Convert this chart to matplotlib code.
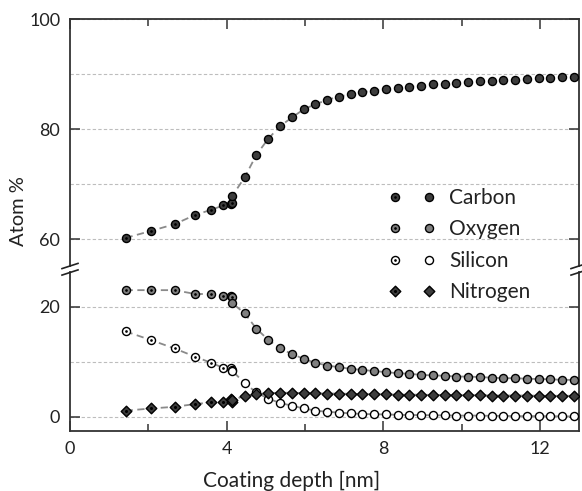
import matplotlib
matplotlib.use("Agg")
import matplotlib.pyplot as plt
from matplotlib.lines import Line2D
from matplotlib.path import Path
from matplotlib.legend_handler import HandlerTuple

plt.rcParams['font.family'] = ['Lato', 'DejaVu Sans']

# depth [nm]: first profile (dotted markers) and second profile (plain markers)
depth_a = [1.42, 2.08, 2.67, 3.20, 3.60, 3.91, 4.10, 4.15]
depth_b = [4.15, 4.46, 4.76, 5.06, 5.36, 5.67, 5.97, 6.27, 6.57, 6.87,
           7.17, 7.47, 7.77, 8.07, 8.37, 8.67, 8.97, 9.27, 9.57, 9.87,
           10.17, 10.47, 10.77, 11.07, 11.37, 11.67, 11.97, 12.27, 12.57, 12.87]

carbon_a = [60.2, 61.5, 62.7, 64.4, 65.3, 66.1, 66.3, 66.5]
carbon_b = [67.9, 71.2, 75.3, 78.2, 80.5, 82.1, 83.6, 84.5, 85.3, 85.9,
            86.3, 86.7, 87.0, 87.3, 87.5, 87.7, 87.9, 88.1, 88.2, 88.4,
            88.5, 88.7, 88.8, 88.9, 89.0, 89.1, 89.2, 89.3, 89.4, 89.45]

oxygen_a = [23.0, 23.0, 23.0, 22.3, 22.3, 22.0, 22.0, 21.8]
oxygen_b = [20.6, 18.8, 16.0, 14.0, 12.4, 11.4, 10.5, 9.8, 9.3, 9.0,
            8.7, 8.5, 8.3, 8.1, 7.9, 7.8, 7.6, 7.5, 7.45, 7.3,
            7.3, 7.2, 7.1, 7.0, 7.0, 6.9, 6.85, 6.8, 6.7, 6.7]

silicon_a = [15.5, 13.9, 12.4, 10.9, 9.8, 8.9, 8.9, 8.5]
silicon_b = [8.3, 6.1, 4.4, 3.3, 2.5, 2.0, 1.5, 1.1, 0.9, 0.75,
             0.6, 0.5, 0.45, 0.4, 0.35, 0.3, 0.3, 0.25, 0.25, 0.2,
             0.2, 0.2, 0.15, 0.15, 0.1, 0.1, 0.1, 0.1, 0.05, 0.05]

nitrogen_a = [1.1, 1.5, 1.8, 2.3, 2.6, 2.7, 3.2, 2.7]
nitrogen_b = [3.0, 3.8, 4.1, 4.3, 4.35, 4.35, 4.3, 4.25, 4.2, 4.2,
              4.15, 4.1, 4.1, 4.05, 4.0, 4.0, 4.0, 3.95, 3.95, 3.9,
              3.9, 3.9, 3.85, 3.85, 3.85, 3.85, 3.8, 3.8, 3.8, 3.8]

# marker shapes; the small inner ring gets stroked with the edge colour -> centre dot
circ = Path.unit_circle()
inner = Path(circ.vertices * 0.16, circ.codes)
diamond = Path([(0, -1), (1, 0), (0, 1), (-1, 0), (0, -1)],
               [Path.MOVETO, Path.LINETO, Path.LINETO, Path.LINETO, Path.CLOSEPOLY])
circ_dot = Path.make_compound_path(circ, inner)
diamond_dot = Path.make_compound_path(diamond, inner)

series = [
    ("Carbon", carbon_a, carbon_b, "#3d3d3d", circ_dot, circ, 5.8),
    ("Oxygen", oxygen_a, oxygen_b, "#808080", circ_dot, circ, 5.8),
    ("Silicon", silicon_a, silicon_b, "white", circ_dot, circ, 5.8),
    ("Nitrogen", nitrogen_a, nitrogen_b, "#3d3d3d", diamond_dot, diamond, 7.6),
]

W, H = 582, 491
fig = plt.figure(figsize=(W / 100, H / 100), dpi=100)
left, right = 70 / W, 579 / W
ax_top = fig.add_axes([left, 1 - 266 / H, right - left, (266 - 19) / H])
ax_bot = fig.add_axes([left, 1 - 431 / H, right - left, (431 - 272) / H])

grid_kw = dict(color="#bdbdbd", lw=0.8, ls=(0, (3, 2)))
for ax in (ax_top, ax_bot):
    for name, ya, yb, fc, mdot, mplain, ms in series:
        ax.plot(depth_a + depth_b, ya + yb, color="#8a8a8a", lw=1.3,
                ls=(0, (4, 2.5)), zorder=2)
        ax.plot(depth_a, ya, ls="none", marker=mdot, ms=ms, mfc=fc, mec="black",
                mew=1.0, zorder=3)
        ax.plot(depth_b, yb, ls="none", marker=mplain, ms=ms, mfc=fc, mec="black",
                mew=1.0, zorder=3)
    ax.set_xlim(0, 13)
    ax.set_xticks([0, 4, 8, 12])
    ax.set_xticks([2, 6, 10], minor=True)
    ax.grid(axis="y", which="both", **grid_kw)
    ax.set_axisbelow(True)
    for s in ax.spines.values():
        s.set_color("#333333")
        s.set_linewidth(1.3)
    ax.tick_params(which="both", direction="in", colors="#333333",
                   labelcolor="#222222", labelsize=13, left=True, right=True)
    ax.tick_params(which="major", length=7, width=1.1, pad=7)
    ax.tick_params(which="minor", length=5, width=1.1)
    ax.tick_params(axis="y", which="minor", length=0)

ax_top.set_ylim(55.1, 100)
ax_top.set_yticks([60, 80, 100])
ax_top.set_yticks([70, 90], minor=True)
ax_top.spines["bottom"].set_visible(False)
ax_top.tick_params(axis="x", which="both", bottom=False, top=True, labelbottom=False)

ax_bot.set_ylim(-2.6, 26.3)
ax_bot.set_yticks([0, 20])
ax_bot.set_yticks([10], minor=True)
ax_bot.spines["top"].set_visible(False)
ax_bot.tick_params(axis="x", which="both", top=False, bottom=True)

# axis break marks
for xc in (70, 579):
    for yc in (266, 272.5):
        fig.add_artist(Line2D([(xc - 8) / W, (xc + 8) / W],
                              [1 - (yc + 2.6) / H, 1 - (yc - 2.6) / H],
                              color="#222222", lw=1.2, transform=fig.transFigure))

fig.text(19 / W, 1 - 211 / H, "Atom %", rotation=90, ha="center", va="center",
         fontsize=14.5, color="#222222")
fig.text(292 / W, 1 - 481 / H, "Coating depth [nm]", ha="center", va="center",
         fontsize=15, color="#222222")

handles = []
for name, ya, yb, fc, mdot, mplain, ms in series:
    h1 = Line2D([], [], ls="none", marker=mdot, ms=ms, mfc=fc, mec="black", mew=1.0)
    h2 = Line2D([], [], ls="none", marker=mplain, ms=ms, mfc=fc, mec="black", mew=1.0)
    handles.append((h1, h2))
fig.legend(handles, [s[0] for s in series],
           handler_map={tuple: HandlerTuple(ndivide=None, pad=0)},
           loc="upper left", bbox_to_anchor=(378 / W, 1 - 188 / H),
           frameon=False, fontsize=15, handlelength=3.27, handletextpad=0.15,
           labelspacing=0.55, borderpad=0, borderaxespad=0, labelcolor="#222222")

fig.savefig("out.png", dpi=100)
